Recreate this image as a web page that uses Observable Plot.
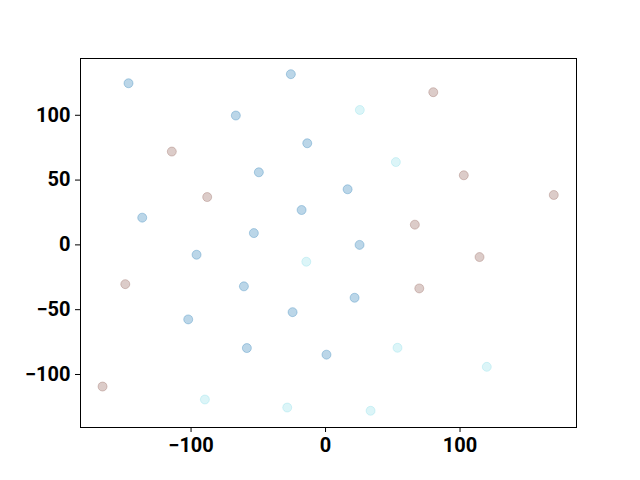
<!DOCTYPE html>
<html>
<head>
<meta charset="utf-8">
<script src="https://cdn.jsdelivr.net/npm/d3@7"></script>
<script src="https://cdn.jsdelivr.net/npm/@observablehq/plot@0.6"></script>
<style>
  html, body { margin: 0; padding: 0; background: #fff; }
  svg { display: block; }
</style>
</head>
<body>
<div id="chart"></div>
<script>
const blueX = [-146.5, -25.8, -66.7, -13.6, -49.6, 16.4, -17.8, -136.3, -53.3, 25.3, -95.9, -60.7, 21.6, -24.5, -102.1, -58.5, 0.7];
const blueY = [124.7, 131.7, 99.8, 78.4, 56.0, 42.9, 26.9, 21.0, 9.1, 0.0, -7.6, -32.0, -40.8, -51.9, -57.5, -79.6, -84.7];
const brownX = [-114.3, -88.0, 80.1, 102.8, 169.7, 66.4, 114.5, 69.7, -148.9, -165.8];
const brownY = [72.0, 36.9, 117.8, 53.7, 38.5, 15.6, -9.4, -33.6, -30.3, -109.3];
const cyanX = [25.5, 52.3, -14.3, 53.5, 119.9, -89.7, -28.5, 33.5];
const cyanY = [104.1, 63.9, -13.0, -79.4, -94.1, -119.3, -125.5, -128.0];
const xTicks = [-100, 0, 100];
const yTicks = [-100, -50, 0, 50, 100];

const groups = [
  {xs: blueX, ys: blueY, color: "#1f77b4", alpha: 0.3},
  {xs: brownX, ys: brownY, color: "#8c564b", alpha: 0.3},
  {xs: cyanX, ys: cyanY, color: "#17becf", alpha: 0.15}
];

const marks = groups.map(g => {
  const data = g.xs.map((x, i) => ({x, y: g.ys[i]}));
  return Plot.dot(data, {x: "x", y: "y", r: 4.5, fill: g.color, fillOpacity: g.alpha, stroke: g.color, strokeOpacity: g.alpha, strokeWidth: 1});
});

const chart = Plot.plot({
  width: 640,
  height: 480,
  marginLeft: 80,
  marginRight: 64,
  marginTop: 58,
  marginBottom: 53,
  style: {fontFamily: "Roboto", fontSize: "20px", fontWeight: "bold", color: "black", background: "white"},
  x: {domain: [-182.2, 186.6], ticks: xTicks, tickFormat: d => d < 0 ? "\u2212" + Math.abs(d) : String(d)},
  y: {domain: [-140.9, 143.8], ticks: yTicks, tickFormat: d => d < 0 ? "\u2212" + Math.abs(d) : String(d)},
  marks: [
    ...marks,
    Plot.frame({stroke: "black", strokeWidth: 1}),
    Plot.axisX({ticks: xTicks, tickSize: 5, tickPadding: 5, label: null, tickFormat: d => d < 0 ? "\u2212" + Math.abs(d) : String(d), fontSize: 20, fontWeight: "bold"}),
    Plot.axisY({ticks: yTicks, tickSize: 5, tickPadding: 5, label: null, tickFormat: d => d < 0 ? "\u2212" + Math.abs(d) : String(d), fontSize: 20, fontWeight: "bold"})
  ]
});
document.getElementById("chart").appendChild(chart);
</script>
</body>
</html>
